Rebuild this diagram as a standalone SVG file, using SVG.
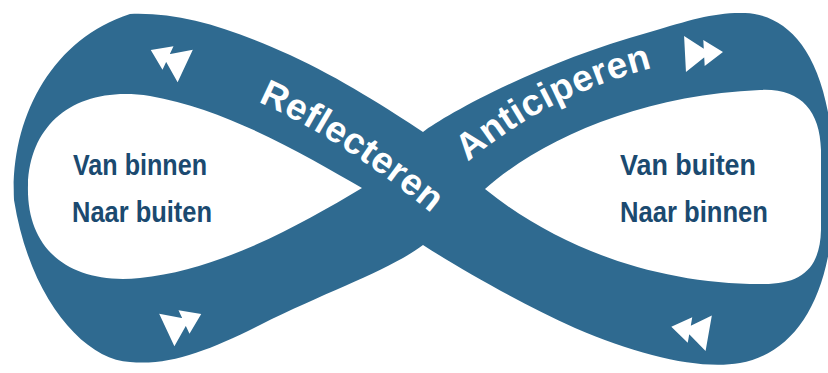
<svg xmlns="http://www.w3.org/2000/svg" width="828" height="373" viewBox="0 0 828 373">
  <style>
    .band { fill: #2f6a90; fill-rule: evenodd; }
    .arrow { fill: #ffffff; }
    .bandtext { font-family: "Liberation Sans", Arial, sans-serif; font-weight: bold; font-size: 37px; fill: #ffffff; letter-spacing: 0.5px; }
    .label { font-family: "Liberation Sans", Arial, sans-serif; font-weight: bold; font-size: 30px; fill: #1b4a70; }
  </style>
  <defs>
    <path id="ff" d="M-19,-18 L6,0 L-19,18 Z M0,-13 L19,0 L0,13 Z"/>
    <path id="reflPath" d="M258,102 Q345,140 447,226"/>
    <path id="antiPath" d="M468,162 Q550,92 668,64"/>
  </defs>
  <rect width="828" height="373" fill="#ffffff"/>

  <g id="loop">
    <path class="band" d="
      M423,132
      C445,115 540,62 650,32
      C690,20 715,12 745,13
      C792,15 835,60 834,190
      C834,290 800,352 740,363
      C700,370 640,356 575,328
      C520,303 462,270 423,245
      C390,270 330,290 260,325
      C210,350 170,366 130,362
      C85,360 30,300 14,200
      C10,120 50,40 130,14
      C180,12 230,28 290,55
      C340,78 390,110 423,132 Z
      M362,188
      C310,158 230,110 150,96
      C80,85 30,120 28,185
      C26,250 70,285 140,278
      C220,270 300,225 362,188 Z
      M485,189
      C540,140 640,95 760,90
      C800,88 820,110 821,150
      L821,230
      C820,270 800,285 760,284
      C660,284 560,250 485,189 Z"/>
  </g>

  <g id="arrows">
    <use href="#ff" class="arrow" transform="translate(168,58) rotate(205)"/>
    <use href="#ff" class="arrow" transform="translate(704,53) rotate(-3)"/>
    <use href="#ff" class="arrow" transform="translate(184,322) rotate(-25)"/>
    <use href="#ff" class="arrow" transform="translate(690,330) rotate(190)"/>
  </g>

  <g id="reflecteren">
    <text class="bandtext"><textPath href="#reflPath">Reflecteren</textPath></text>
  </g>
  <g id="anticiperen">
    <text class="bandtext"><textPath href="#antiPath">Anticiperen</textPath></text>
  </g>

  <g id="left-label">
    <text class="label" x="73" y="175" textLength="134" lengthAdjust="spacingAndGlyphs">Van binnen</text>
    <text class="label" x="72" y="222" textLength="140" lengthAdjust="spacingAndGlyphs">Naar buiten</text>
  </g>
  <g id="right-label">
    <text class="label" x="620" y="175" textLength="136" lengthAdjust="spacingAndGlyphs">Van buiten</text>
    <text class="label" x="620" y="222" textLength="148" lengthAdjust="spacingAndGlyphs">Naar binnen</text>
  </g>
</svg>
